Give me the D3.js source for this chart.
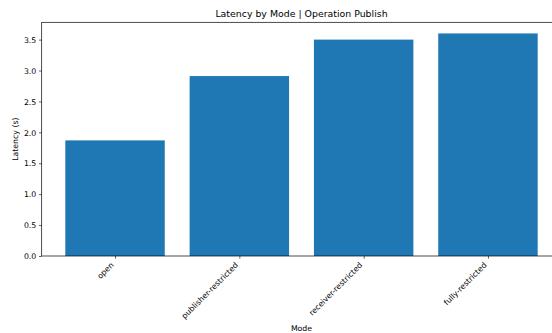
<!DOCTYPE html>
<html><head><meta charset="utf-8">
<script src="https://cdn.jsdelivr.net/npm/d3@7"></script>
<style>body{margin:0;background:#fff}svg{display:block;font-family:"DejaVu Sans",sans-serif}</style>
</head><body><svg id="c" width="552" height="333"></svg>
<script>
const categories = ["open", "publisher-restricted", "receiver-restricted", "fully-restricted"];
const latency = [1.87, 2.91, 3.50, 3.60];
const yTicks = [0, 0.5, 1.0, 1.5, 2.0, 2.5, 3.0, 3.5];
const title = "Latency by Mode | Operation Publish";
const xLabel = "Mode", yLabel = "Latency (s)";

const svg = d3.select("#c");
const L = 41.7, R = 561.3, T = 22.3, B = 256;
const fs = 7.8, titleFs = 9.4, tick = 2.7, pad = 2.7;

const x = d3.scaleLinear().domain([-0.59, 3.59]).range([L, R]);
const y = d3.scaleLinear().domain([0, 3.78]).range([B, T]);

svg.append("g").selectAll("rect").data(latency).join("rect")
  .attr("x", (d, i) => x(i - 0.4)).attr("width", (d, i) => x(i + 0.4) - x(i - 0.4))
  .attr("y", d => y(d)).attr("height", d => y(0) - y(d)).attr("fill", "#1f77b4");

const ya = svg.append("g").attr("transform", `translate(${L},0)`)
  .call(d3.axisLeft(y).tickValues(yTicks).tickFormat(d3.format(".1f")).tickSize(tick).tickPadding(pad));
ya.select(".domain").remove();
ya.selectAll("line").attr("stroke", "#000").attr("stroke-width", 0.62);
ya.selectAll("text").attr("font-size", fs).attr("font-family", "DejaVu Sans").attr("fill", "#000").attr("dy", "0.35em");

const xa = svg.append("g").attr("transform", `translate(0,${B})`)
  .call(d3.axisBottom(x).tickValues(d3.range(categories.length)).tickFormat(i => categories[i]).tickSize(tick).tickPadding(pad));
xa.select(".domain").remove();
xa.selectAll("line").attr("stroke", "#000").attr("stroke-width", 0.62);
const asc = 0.76 * fs, desc = 0.24 * fs;
xa.selectAll("text").attr("font-size", fs).attr("font-family", "DejaVu Sans").attr("fill", "#000")
  .attr("y", 0).attr("dy", 0).attr("text-anchor", "end")
  .attr("transform", `translate(${-0.707 * desc},${tick + pad + 0.707 * asc}) rotate(-45)`);

// spines
svg.append("rect").attr("x", L).attr("y", T).attr("width", R - L).attr("height", B - T)
  .attr("fill", "none").attr("stroke", "#000").attr("stroke-width", 0.7);

svg.append("text").attr("x", (L + R) / 2).attr("y", 17).attr("text-anchor", "middle")
  .attr("font-size", titleFs).attr("fill", "#000").text(title);
svg.append("text").attr("x", (L + R) / 2).attr("y", 330.5).attr("text-anchor", "middle")
  .attr("font-size", fs).attr("fill", "#000").text(xLabel);
svg.append("text").attr("transform", `translate(18.3,${(T + B) / 2}) rotate(-90)`).attr("text-anchor", "middle")
  .attr("font-size", fs).attr("fill", "#000").text(yLabel);
</script></body></html>
